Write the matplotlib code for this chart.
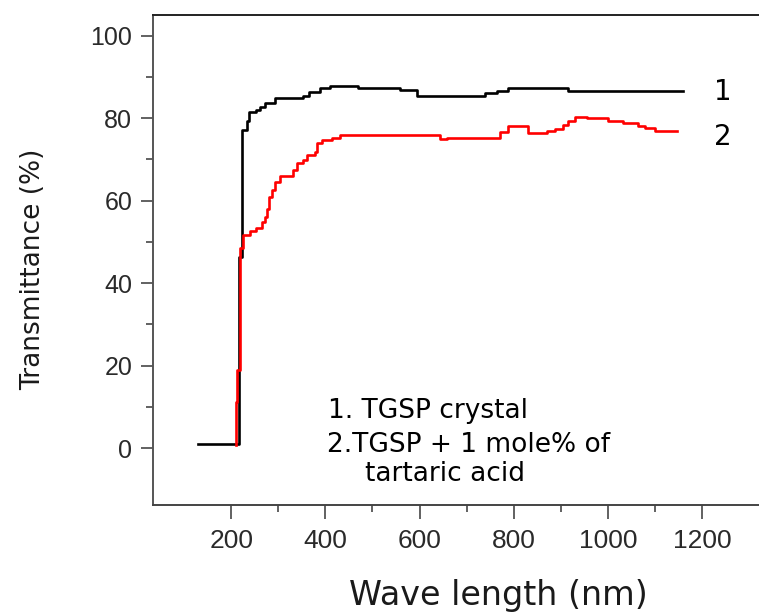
import numpy as np
import matplotlib
matplotlib.use('Agg')
import matplotlib.pyplot as plt

# ---- data (wavelength nm, transmittance %) ----
wl_1 = [130, 216, 223, 234, 238, 253, 262, 272, 293, 353, 366, 389, 410,
        470, 559, 595, 739, 765, 788, 916, 1160]
tr_1 = [1.0, 46.3, 77.1, 79.3, 81.5, 82.0, 82.7, 83.7, 84.9, 85.4, 86.3, 87.3, 87.8,
        87.3, 86.8, 85.4, 86.1, 86.6, 87.3, 86.6, 86.6]

wl_2 = [211, 211, 213, 219, 225, 240, 253, 266, 272, 276, 281, 287, 293, 304,
        332, 340, 353, 361, 378, 383, 393, 414, 431, 644, 659, 771, 788, 831,
        871, 888, 905, 916, 930, 956, 1000, 1032, 1064, 1079, 1100, 1147]
tr_2 = [0.7, 11.2, 18.9, 48.5, 51.7, 52.6, 53.4, 54.8, 56.0, 58.0, 60.9, 62.6, 64.5, 66.0,
        67.4, 69.1, 69.9, 71.1, 71.8, 74.0, 74.7, 75.2, 75.9, 74.9, 75.2, 76.6, 78.1, 76.4,
        76.9, 77.4, 78.3, 79.3, 80.3, 80.0, 79.3, 78.8, 78.1, 77.6, 76.9, 76.9]

xticks = [200, 400, 600, 800, 1000, 1200]
yticks = [0, 20, 40, 60, 80, 100]
legend_lines = ['1. TGSP crystal', '2.TGSP + 1 mole% of', 'tartaric acid']

fig = plt.figure(figsize=(7.59, 6.14), dpi=100)
ax = fig.add_axes([0.2016, 0.1775, 0.7984, 0.7981])

ax.plot(wl_1, tr_1, color='black', lw=1.9, drawstyle='steps-post')
ax.plot(wl_2, tr_2, color='#ff0000', lw=1.9, drawstyle='steps-post')

ax.set_xlim(34, 1321)
ax.set_ylim(-13.8, 105.0)

ax.set_xticks(xticks)
ax.set_xticks(np.arange(300, 1200, 200), minor=True)
ax.set_yticks(yticks)
ax.set_yticks(np.arange(10, 100, 20), minor=True)

gray = '#555555'
for s in ['left', 'bottom', 'top']:
    ax.spines[s].set_linewidth(1.4)
ax.spines['left'].set_color(gray)
ax.spines['bottom'].set_color('#444444')
ax.spines['top'].set_color('#222222')
ax.spines['right'].set_visible(False)

ax.tick_params(axis='y', which='major', direction='out', length=9, width=1.3,
               color=gray, pad=6, labelsize=18, labelcolor='#2a2a2a')
ax.tick_params(axis='y', which='minor', direction='out', length=5, width=1.3, color=gray)
ax.tick_params(axis='x', which='major', direction='out', length=10, width=1.3,
               color=gray, pad=7, labelsize=19, labelcolor='#2a2a2a')
ax.tick_params(axis='x', which='minor', direction='out', length=5, width=1.3, color=gray)
for lab in ax.get_xticklabels() + ax.get_yticklabels():
    lab.set_family('Liberation Sans')

fig.text(33 / 759, 1 - 269 / 614, 'Transmittance (%)', rotation=90,
         ha='center', va='center', fontsize=19, family='DejaVu Sans', color='#1a1a1a')
fig.text(498 / 759, 1 - 596 / 614, 'Wave length (nm)',
         ha='center', va='center', fontsize=24, family='DejaVu Sans', color='#1a1a1a')

ax.text(1245, 86.3, '1', ha='center', va='center', fontsize=20, family='DejaVu Sans')
ax.text(1245, 75.4, '2', ha='center', va='center', fontsize=20, family='DejaVu Sans')

ax.text(406, 7.3, legend_lines[0], ha='left', va='baseline', fontsize=19, family='DejaVu Sans')
ax.text(404, -1.0, legend_lines[1], ha='left', va='baseline', fontsize=19, family='DejaVu Sans')
ax.text(484, -8.0, legend_lines[2], ha='left', va='baseline', fontsize=19, family='DejaVu Sans')

fig.savefig('out.png', dpi=100)
